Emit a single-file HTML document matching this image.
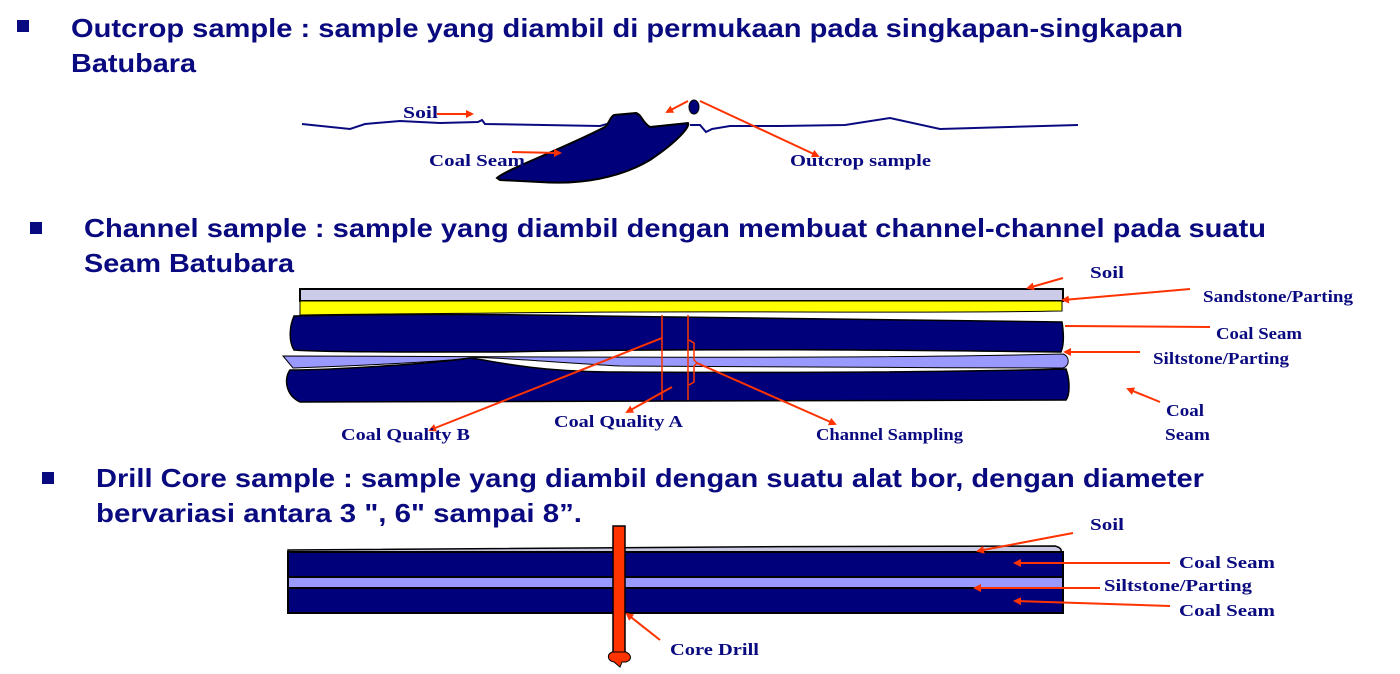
<!DOCTYPE html>
<html><head><meta charset="utf-8"><style>
html,body{margin:0;padding:0;background:#fff;width:1400px;height:674px;overflow:hidden}
svg{display:block}
.h{font-family:"Liberation Sans",sans-serif;font-weight:bold;font-size:26px;fill:#0a0a80}
.l{font-family:"Liberation Serif",serif;font-weight:bold;font-size:17px;fill:#0a0a80}
.a{stroke:#ff3300;stroke-width:2;fill:none}
</style></head><body>
<svg width="1400" height="674" viewBox="0 0 1400 674" xmlns="http://www.w3.org/2000/svg">
<defs><marker id="m" markerWidth="8" markerHeight="8" refX="6" refY="4" orient="auto" markerUnits="userSpaceOnUse"><path d="M0,0 L8,4 L0,8 z" fill="#ff3300"/></marker></defs>
<!-- bullets -->
<rect x="17" y="20" width="12" height="12" fill="#0a0a80"/>
<rect x="30" y="222" width="12" height="12" fill="#0a0a80"/>
<rect x="42" y="472" width="12" height="12" fill="#0a0a80"/>
<text class="h" x="71" y="37" textLength="1112" lengthAdjust="spacingAndGlyphs">Outcrop sample : sample yang diambil di permukaan pada singkapan-singkapan</text>
<text class="h" x="71" y="72" textLength="125" lengthAdjust="spacingAndGlyphs">Batubara</text>
<text class="h" x="84" y="237" textLength="1182" lengthAdjust="spacingAndGlyphs">Channel sample : sample yang diambil dengan membuat channel-channel pada suatu</text>
<text class="h" x="84" y="272" textLength="210" lengthAdjust="spacingAndGlyphs">Seam Batubara</text>
<text class="h" x="96" y="487" textLength="1108" lengthAdjust="spacingAndGlyphs">Drill Core sample : sample yang diambil dengan suatu alat bor, dengan diameter</text>
<text class="h" x="96" y="522" textLength="486" lengthAdjust="spacingAndGlyphs">bervariasi antara 3  ", 6" sampai 8”.</text>

<!-- diagram 1 -->
<path d="M302,124 L350,129 L365,124 L400,121 L440,123 L478,122 L482,120 L485,124 L600,126 L607,124 M690,125 L700,125 L706,132 L712,129 L730,126 L780,126 L845,125 L890,118 L940,129 L1078,125" stroke="#0a0a80" stroke-width="2" fill="none"/>
<path d="M497,178 C505,170 560,150 605,127 C610,122 610,117 614,115 L636,113 C642,115 642,122 650,127 L688,123 C690,126 680,140 650,160 C620,178 580,185 540,182 L500,180 Z" fill="#00007a" stroke="#000" stroke-width="2"/>
<ellipse cx="694" cy="107" rx="5" ry="7" fill="#00007a" stroke="#000"/>
<line class="a" x1="437" y1="114" x2="472" y2="114" marker-end="url(#m)"/>
<line class="a" x1="512" y1="152" x2="560" y2="153" marker-end="url(#m)"/>
<line class="a" x1="688" y1="101" x2="667" y2="112" marker-end="url(#m)"/>
<line class="a" x1="700" y1="101" x2="818" y2="156" marker-end="url(#m)"/>
<text class="l" x="403" y="118" textLength="35" lengthAdjust="spacingAndGlyphs">Soil</text>
<text class="l" x="429" y="166" textLength="96" lengthAdjust="spacingAndGlyphs">Coal Seam</text>
<text class="l" x="790" y="166" textLength="141" lengthAdjust="spacingAndGlyphs">Outcrop sample</text>

<!-- diagram 2 -->
<rect x="300" y="289" width="763" height="12" fill="#ccccea" stroke="#000" stroke-width="2"/>
<path d="M300,301 L1062,301 L1062,311 C900,314 700,310 500,313 C400,314 330,314 300,315 Z" fill="#ffff00" stroke="#000" stroke-width="1"/>
<path d="M294,316 C380,314 500,314 600,316 C800,318 950,320 1062,322 C1064,335 1064,345 1061,352 C900,350 700,348 500,352 C400,352 320,352 294,350 C288,340 290,325 294,316 Z" fill="#00007a" stroke="#000" stroke-width="1.5"/>
<path d="M283,356 C500,356 800,360 1063,354 C1070,356 1070,366 1063,368 C900,368 700,366 620,366 C550,362 480,356 470,358 C440,362 350,366 293,368 Z" fill="#9999ff" stroke="#000" stroke-width="1"/>
<path d="M290,370 C330,370 430,364 470,358 C490,360 530,372 620,372 C800,373 950,372 1066,369 C1070,380 1070,395 1066,400 L300,402 C285,395 284,378 290,370 Z" fill="#00007a" stroke="#000" stroke-width="1.5"/>
<line x1="662" y1="315" x2="662" y2="400" stroke="#ff3300" stroke-width="1.5"/>
<line x1="688" y1="315" x2="688" y2="400" stroke="#ff3300" stroke-width="1.5"/>
<path d="M689,340 L694,343 L694,360 L697,363 L694,366 L694,382 L689,385" stroke="#ff3300" stroke-width="1.5" fill="none"/>
<line class="a" x1="1063" y1="278" x2="1028" y2="288" marker-end="url(#m)"/>
<line class="a" x1="1190" y1="289" x2="1063" y2="300" marker-end="url(#m)"/>
<line x1="1065" y1="326" x2="1210" y2="327" stroke="#ff3300" stroke-width="2"/>
<line class="a" x1="1140" y1="352" x2="1065" y2="352" marker-end="url(#m)"/>
<line class="a" x1="1160" y1="402" x2="1128" y2="389" marker-end="url(#m)"/>
<line class="a" x1="662" y1="338" x2="430" y2="430" marker-end="url(#m)"/>
<line class="a" x1="672" y1="387" x2="627" y2="412" marker-end="url(#m)"/>
<line class="a" x1="697" y1="363" x2="835" y2="424" marker-end="url(#m)"/>
<text class="l" x="1090" y="278" textLength="34" lengthAdjust="spacingAndGlyphs">Soil</text>
<text class="l" x="1203" y="302" textLength="150" lengthAdjust="spacingAndGlyphs">Sandstone/Parting</text>
<text class="l" x="1216" y="339" textLength="86" lengthAdjust="spacingAndGlyphs">Coal Seam</text>
<text class="l" x="1153" y="364" textLength="136" lengthAdjust="spacingAndGlyphs">Siltstone/Parting</text>
<text class="l" x="1166" y="416" textLength="38" lengthAdjust="spacingAndGlyphs">Coal</text>
<text class="l" x="1165" y="440" textLength="45" lengthAdjust="spacingAndGlyphs">Seam</text>
<text class="l" x="341" y="440" textLength="129" lengthAdjust="spacingAndGlyphs">Coal  Quality  B</text>
<text class="l" x="554" y="427" textLength="129" lengthAdjust="spacingAndGlyphs">Coal  Quality  A</text>
<text class="l" x="816" y="440" textLength="147" lengthAdjust="spacingAndGlyphs">Channel Sampling</text>

<!-- diagram 3 -->
<path d="M288,550 C500,548 800,546 1055,546 C1062,548 1062,551 1060,552 L288,552 Z" fill="#c8c8e0" stroke="#000" stroke-width="1.5"/>
<rect x="288" y="552" width="775" height="61" fill="#00007a" stroke="#000" stroke-width="2"/>
<rect x="288" y="577" width="775" height="11" fill="#9999ff" stroke="#000" stroke-width="2"/>
<rect x="613" y="526" width="12" height="128" fill="#ff3300" stroke="#000" stroke-width="1.5"/>
<path d="M612,652 L626,652 C632,655 632,660 626,662 L622,662 L620,667 L614,662 C608,661 606,655 612,652 Z" fill="#ff3300" stroke="#000" stroke-width="1"/>
<line class="a" x1="1073" y1="533" x2="978" y2="551" marker-end="url(#m)"/>
<line class="a" x1="1170" y1="563" x2="1015" y2="563" marker-end="url(#m)"/>
<line class="a" x1="1100" y1="588" x2="975" y2="588" marker-end="url(#m)"/>
<line class="a" x1="1170" y1="606" x2="1015" y2="601" marker-end="url(#m)"/>
<line class="a" x1="660" y1="640" x2="627" y2="614" marker-end="url(#m)"/>
<text class="l" x="1090" y="530" textLength="34" lengthAdjust="spacingAndGlyphs">Soil</text>
<text class="l" x="1179" y="568" textLength="96" lengthAdjust="spacingAndGlyphs">Coal Seam</text>
<text class="l" x="1104" y="591" textLength="148" lengthAdjust="spacingAndGlyphs">Siltstone/Parting</text>
<text class="l" x="1179" y="616" textLength="96" lengthAdjust="spacingAndGlyphs">Coal Seam</text>
<text class="l" x="670" y="655" textLength="89" lengthAdjust="spacingAndGlyphs">Core Drill</text>
</svg>
</body></html>
